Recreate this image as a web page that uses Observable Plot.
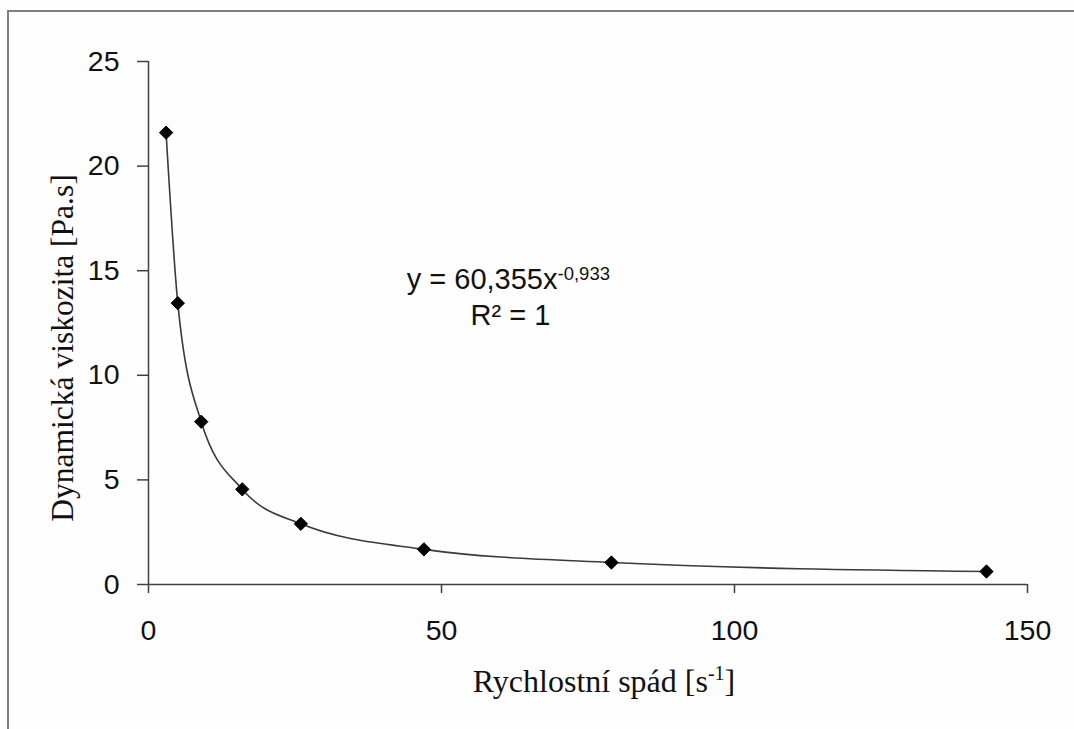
<!DOCTYPE html>
<html>
<head>
<meta charset="utf-8">
<script src="https://cdn.jsdelivr.net/npm/d3@7"></script>
<script src="https://cdn.jsdelivr.net/npm/@observablehq/plot@0.6"></script>
<style>
  body { margin: 0; background: #fefefe; }
  #wrap { position: relative; width: 1074px; height: 729px; overflow: hidden; background: #fefefe; }
  #wrap svg { position: absolute; left: 0; top: 0; }
  #border { position: absolute; left: 7px; top: 10px; width: 2000px; height: 2000px;
            border-left: 2px solid #7f7f7f; border-top: 2px solid #7f7f7f; pointer-events: none; }
</style>
</head>
<body>
<div id="wrap"><div id="border"></div></div>
<script>
// Data
const shearRate = [3, 5, 9, 16, 26, 47, 79, 143];
const viscosity = [21.6, 13.45, 7.78, 4.55, 2.9, 1.68, 1.05, 0.62];
const xTicks = [0, 50, 100, 150];
const yTicks = [0, 5, 10, 15, 20, 25];
const xTitleParts = ["Rychlostní spád [s", "-1", "]"];
const yTitle = "Dynamická viskozita [Pa.s]";
const eqMain = "y = 60,355x";
const eqExp = "-0,933";
const eqR2 = "R² = 1";

const data = shearRate.map((x, i) => ({x, y: viscosity[i]}));
const xTitle = xTitleParts.join("");
const serif = "'Liberation Serif', 'Times New Roman', serif";
const sans = "'Liberation Sans', Arial, sans-serif";
const axisColor = "#404040";

const chart = Plot.plot({
  width: 1074,
  height: 729,
  marginLeft: 148,
  marginRight: 47,
  marginTop: 61,
  marginBottom: 145,
  style: {fontFamily: sans, background: "transparent", color: "#000", overflow: "visible"},
  x: {domain: [0, 150]},
  y: {domain: [0, 25]},
  marks: [
    Plot.ruleX([0], {y1: 0, y2: 25, stroke: axisColor, strokeWidth: 1.5}),
    Plot.ruleY([0], {x1: 0, x2: 150, stroke: axisColor, strokeWidth: 1.5}),
    Plot.axisX({ticks: xTicks, tickSize: 9, tickPadding: 26, fontSize: 28.5, stroke: axisColor, strokeWidth: 1.5, fill: "#111", label: null}),
    Plot.axisY({ticks: yTicks, tickSize: 11, tickPadding: 18, fontSize: 28.5, stroke: axisColor, strokeWidth: 1.5, fill: "#111", label: null}),
    Plot.line(data, {x: "x", y: "y", curve: "monotone-x", stroke: "#3a3a3a", strokeWidth: 1.6}),
    Plot.dot(data, {x: "x", y: "y", symbol: "diamond2", r: 6, fill: "#000", stroke: "#000", strokeWidth: 1}),
    // axis titles
    Plot.text([yTitle], {frameAnchor: "left", textAnchor: "middle", lineAnchor: "middle", rotate: -90,
      dx: -86, dy: 25, fontFamily: serif, fontSize: 31.5, fill: "#111"}),
    Plot.text([xTitle], {frameAnchor: "bottom", textAnchor: "middle", lineAnchor: "bottom",
      dx: 16, dy: 107, fontFamily: serif, fontSize: 32, fill: "#111"}),
    // trendline equation
    Plot.text([eqMain], {frameAnchor: "top-left", textAnchor: "end", lineAnchor: "bottom",
      dx: 409, dy: 227, fontFamily: sans, fontSize: 29, fill: "#111"}),
    Plot.text([eqExp], {frameAnchor: "top-left", textAnchor: "start", lineAnchor: "bottom",
      dx: 409, dy: 218, fontFamily: sans, fontSize: 18.5, fill: "#111"}),
    Plot.text([eqR2], {frameAnchor: "top-left", textAnchor: "middle", lineAnchor: "bottom",
      dx: 362, dy: 263, fontFamily: sans, fontSize: 29, fill: "#111"})
  ]
});

// Superscript "-1" in the x-axis title
d3.select(chart).selectAll("text")
  .filter(function() { return this.textContent === xTitle; })
  .each(function() {
    const t = d3.select(this);
    t.text(null);
    t.append("tspan").text(xTitleParts[0]);
    t.append("tspan").attr("dy", -12).attr("font-size", 20).text(xTitleParts[1]);
    t.append("tspan").attr("dy", 12).text(xTitleParts[2]);
  });

document.getElementById("wrap").prepend(chart);
</script>
</body>
</html>
